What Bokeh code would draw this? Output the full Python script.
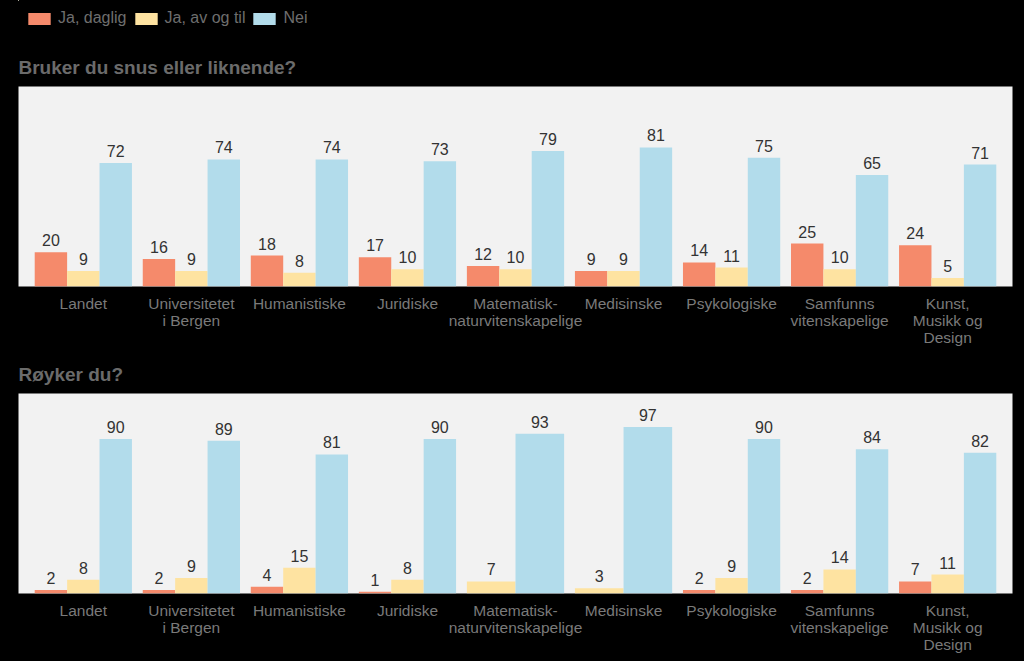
from bokeh.plotting import figure
from bokeh.models import (ColumnDataSource, Range1d, FixedTicker, Legend, LegendItem)
from bokeh.layouts import column
from bokeh.embed import file_html
from bokeh.resources import INLINE
from bokeh.core.properties import value

categories = ["Landet", "Universitetet\ni Bergen", "Humanistiske", "Juridiske",
              "Matematisk-\nnaturvitenskapelige", "Medisinske", "Psykologiske",
              "Samfunns\nvitenskapelige", "Kunst,\nMusikk og\nDesign"]
series_names = ["Ja, daglig", "Ja, av og til", "Nei"]

snus_daglig = [20, 16, 18, 17, 12, 9, 14, 25, 24]
snus_avogtil = [9, 9, 8, 10, 10, 9, 11, 10, 5]
snus_nei = [72, 74, 74, 73, 79, 81, 75, 65, 71]

royk_daglig = [2, 2, 4, 1, None, None, 2, 2, 7]
royk_avogtil = [8, 9, 15, 8, 7, 3, 9, 14, 11]
royk_nei = [90, 89, 81, 90, 93, 97, 90, 84, 82]

titles = ["Bruker du snus eller liknende?", "Røyker du?"]

COLORS = ["#F58A6B", "#FEE3A1", "#B2DCEB"]
FONT = "Liberation Sans"
BG = "#000000"


def dodge(series_list, group_width=0.9):
    out = [dict(x=[], top=[], w=[], label=[]) for _ in series_list]
    for i in range(len(categories)):
        present = [(k, s[i]) for k, s in enumerate(series_list) if s[i] is not None]
        w = group_width / len(present)
        for j, (k, v) in enumerate(present):
            out[k]["x"].append(i - group_width / 2 + w * (j + 0.5))
            out[k]["top"].append(v)
            out[k]["w"].append(w)
            out[k]["label"].append(str(v))
    return out


def make_panel(title, series_list, height, border_top, border_bottom):
    p = figure(width=1024, height=height, output_backend="svg", toolbar_location=None,
               x_range=Range1d(-0.6, 8.6), y_range=Range1d(0, 116.5),
               y_axis_location=None, min_border_left=18, min_border_right=12,
               min_border_top=border_top, min_border_bottom=border_bottom,
               background_fill_color="#F2F2F2", border_fill_color=BG,
               outline_line_color=None, title=title)
    p.title.text_font = FONT
    p.title.text_font_size = "19px"
    p.title.text_font_style = "bold"
    p.title.text_color = "#6B6B6B"
    p.title.align = "left"
    p.title.offset = 0
    p.title.standoff = 18
    p.grid.visible = False

    ax = p.xaxis[0]
    ax.ticker = FixedTicker(ticks=list(range(len(categories))))
    ax.major_label_overrides = {i: c for i, c in enumerate(categories)}
    ax.axis_line_color = None
    ax.major_tick_line_color = None
    ax.minor_tick_line_color = None
    ax.major_tick_out = 0
    ax.major_tick_in = 0
    ax.major_label_standoff = 8
    ax.major_label_text_font = FONT
    ax.major_label_text_font_size = "15.5px"
    ax.major_label_text_color = "#7A7A7A"
    ax.major_label_text_line_height = 1.0

    sources = []
    for k, d in enumerate(dodge(series_list)):
        src = ColumnDataSource(d)
        sources.append(src)
        p.vbar(x="x", top="top", width="w", bottom=0, source=src,
               fill_color=COLORS[k], line_color=None)
        p.text(x="x", y="top", text="label", source=src, text_align="center",
               text_baseline="alphabetic", y_offset=-12, text_font=value(FONT),
               text_font_size="16px", text_color="#333333")
    return p, sources


p1, src1 = make_panel(titles[0], [snus_daglig, snus_avogtil, snus_nei], 310, 46, 64)
p2, src2 = make_panel(titles[1], [royk_daglig, royk_avogtil, royk_nei], 311, 43, 68)

# legend strip: key renderers share the first panel's data but lie flat and far out of view
p0 = figure(width=1024, height=40, output_backend="svg", toolbar_location=None,
            x_axis_location=None, y_axis_location=None,
            x_range=Range1d(100, 109.2), y_range=Range1d(-200, -100),
            min_border=0, min_border_left=0, min_border_right=0,
            min_border_top=0, min_border_bottom=0,
            background_fill_color=BG, border_fill_color=BG, outline_line_color=None)
p0.grid.visible = False
key_renderers = [p0.vbar(x="x", top="top", bottom="top", width="w", source=s,
                         fill_color=c, line_color=None)
                 for s, c in zip(src1, COLORS)]
legend = Legend(items=[LegendItem(label=n, renderers=[r]) for n, r in zip(series_names, key_renderers)],
                orientation="horizontal", location=(7, 13),
                glyph_width=28, glyph_height=15, label_height=15,
                label_standoff=5, spacing=5, padding=0, margin=0,
                background_fill_alpha=0, border_line_color=None,
                label_text_font=FONT, label_text_font_size="16px",
                label_text_color="#6E6E6E")
p0.add_layout(legend, "center")

layout = column(p0, p1, p2, spacing=0, background=BG)
html = file_html(layout, INLINE)
html = html.replace("</head>", "<style>html, body {background:#000000; margin:0;}</style></head>", 1)
open("out.html", "w").write(html)
